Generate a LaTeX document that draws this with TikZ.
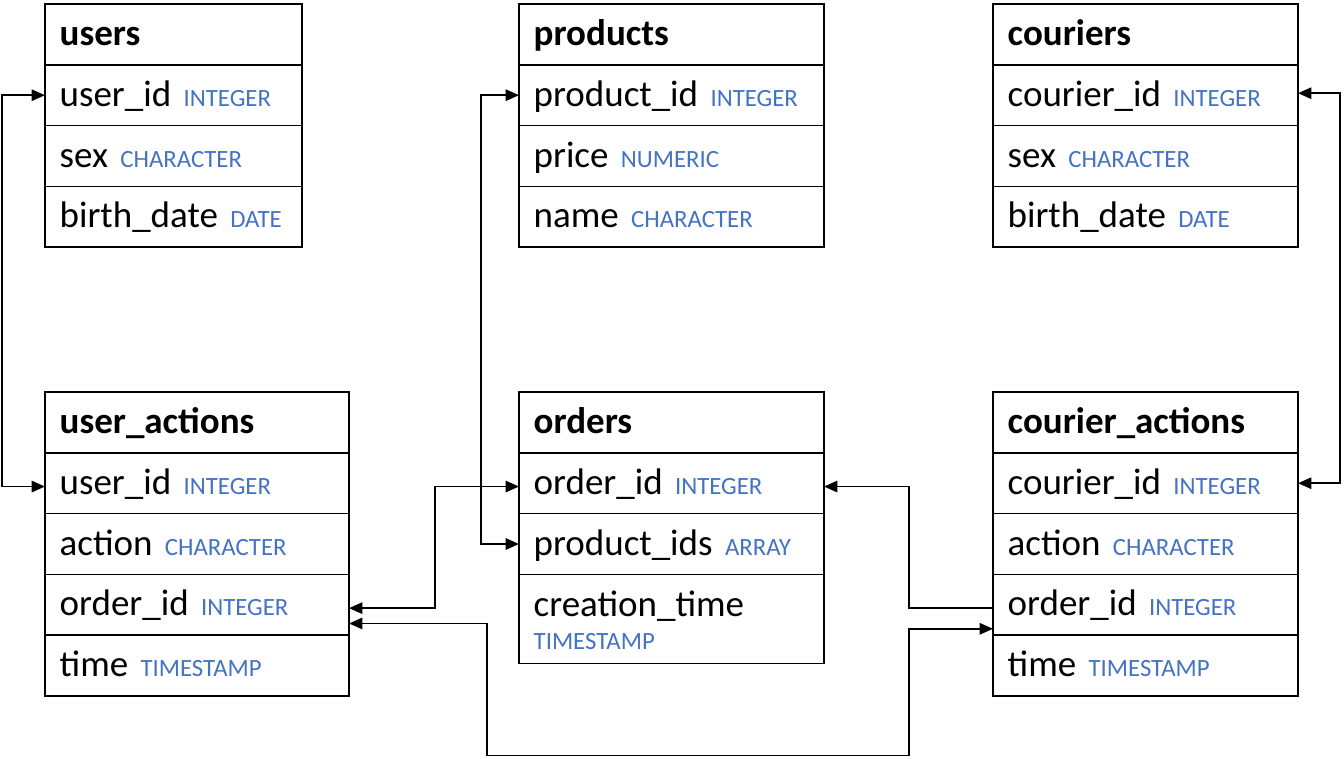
\documentclass[tikz,border=0pt]{standalone}
\usepackage{fontspec}
\setmainfont{Carlito}
\usetikzlibrary{positioning,calc,arrows.meta}

\definecolor{typeblue}{HTML}{4472C4}
\newcommand{\fieldfont}{\fontsize{27.75pt}{24.75pt}\selectfont}
\newcommand{\ftype}[1]{{\fontsize{18.6pt}{20pt}\selectfont\color{typeblue}#1}}

\tikzset{
    row/.style={draw, line width=1.3pt, outer sep=0pt, inner ysep=0pt, inner xsep=11pt,
        minimum height=45.6pt, text height=24pt, text depth=7.4pt, align=left,
        font=\fieldfont, text width=206.75pt},
    hdr/.style={row, font=\fieldfont\bfseries, anchor=north west},
    small/.style={text width=170.75pt},
    tallrow/.style={row, minimum height=66.75pt, text depth=27.75pt},
    link/.style={line width=1.4pt, {Triangle[length=10pt,width=8.5pt]}-{Triangle[length=10pt,width=8.5pt]}},
}

\begin{document}
\begin{tikzpicture}[x=0.75pt, y=-0.75pt]
    \useasboundingbox (0,0) rectangle (1344,759);

    % users table
    \node[hdr, small] (users) at (45,4) {users};
    \node[row, small, below=0pt of users] (users-uid) {user\_id \ftype{INTEGER}};
    \node[row, small, below=0pt of users-uid] (users-sex) {sex \ftype{CHARACTER}};
    \node[row, small, below=0pt of users-sex] (users-bd) {birth\_date \ftype{DATE}};

    % products table
    \node[hdr] (prod) at (519,4) {products};
    \node[row, below=0pt of prod] (prod-pid) {product\_id \ftype{INTEGER}};
    \node[row, below=0pt of prod-pid] (prod-price) {price \ftype{NUMERIC}};
    \node[row, below=0pt of prod-price] (prod-name) {name \ftype{CHARACTER}};

    % couriers table
    \node[hdr] (cour) at (993,4) {couriers};
    \node[row, below=0pt of cour] (cour-cid) {courier\_id \ftype{INTEGER}};
    \node[row, below=0pt of cour-cid] (cour-sex) {sex \ftype{CHARACTER}};
    \node[row, below=0pt of cour-sex] (cour-bd) {birth\_date \ftype{DATE}};

    % user_actions table
    \node[hdr, text width=206pt] (ua) at (45,392) {user\_actions};
    \node[row, text width=206pt, below=0pt of ua] (ua-uid) {user\_id \ftype{INTEGER}};
    \node[row, text width=206pt, below=0pt of ua-uid] (ua-act) {action \ftype{CHARACTER}};
    \node[row, text width=206pt, below=0pt of ua-act] (ua-oid) {order\_id \ftype{INTEGER}};
    \node[row, text width=206pt, below=0pt of ua-oid] (ua-time) {time \ftype{TIMESTAMP}};

    % orders table
    \node[hdr] (ord) at (519,392) {orders};
    \node[row, below=0pt of ord] (ord-oid) {order\_id \ftype{INTEGER}};
    \node[row, below=0pt of ord-oid] (ord-pids) {product\_ids \ftype{ARRAY}};
    \node[tallrow, below=0pt of ord-pids] (ord-ct) {creation\_time\\\ftype{TIMESTAMP}};

    % courier_actions table
    \node[hdr] (ca) at (993,392) {courier\_actions};
    \node[row, below=0pt of ca] (ca-cid) {courier\_id \ftype{INTEGER}};
    \node[row, below=0pt of ca-cid] (ca-act) {action \ftype{CHARACTER}};
    \node[row, below=0pt of ca-act] (ca-oid) {order\_id \ftype{INTEGER}};
    \node[row, below=0pt of ca-oid] (ca-time) {time \ftype{TIMESTAMP}};

    % Links between the tables
    \draw[link] (users-uid.west) -- ++(-43,0) |- ([yshift=-2.5pt]ua-uid.west);
    \draw[link] (prod-pid.west) -- ++(-38,0) |- (ord-pids.west);
    \draw[link] ([yshift=1.5pt]cour-cid.east) -- ++(42,0) |- (ca-cid.east);
    \draw[link] ([yshift=-2.5pt]ua-oid.east) -- ++(86,0) |- ([yshift=-2.5pt]ord-oid.west);
    \draw[link, {Triangle[length=10pt,width=8.5pt]}-] ([yshift=-2.5pt]ord-oid.east)
        -| ($([yshift=-2.5pt]ca-oid.west)+(-84,0)$) -- ([yshift=-2.5pt]ca-oid.west);
    \draw[link] ([yshift=-14pt]ua-oid.east) -- ++(138,0) -- ++(0,132)
        -| ($([yshift=-18pt]ca-oid.west)+(-84,0)$) -- ([yshift=-18pt]ca-oid.west);
\end{tikzpicture}
\end{document}
